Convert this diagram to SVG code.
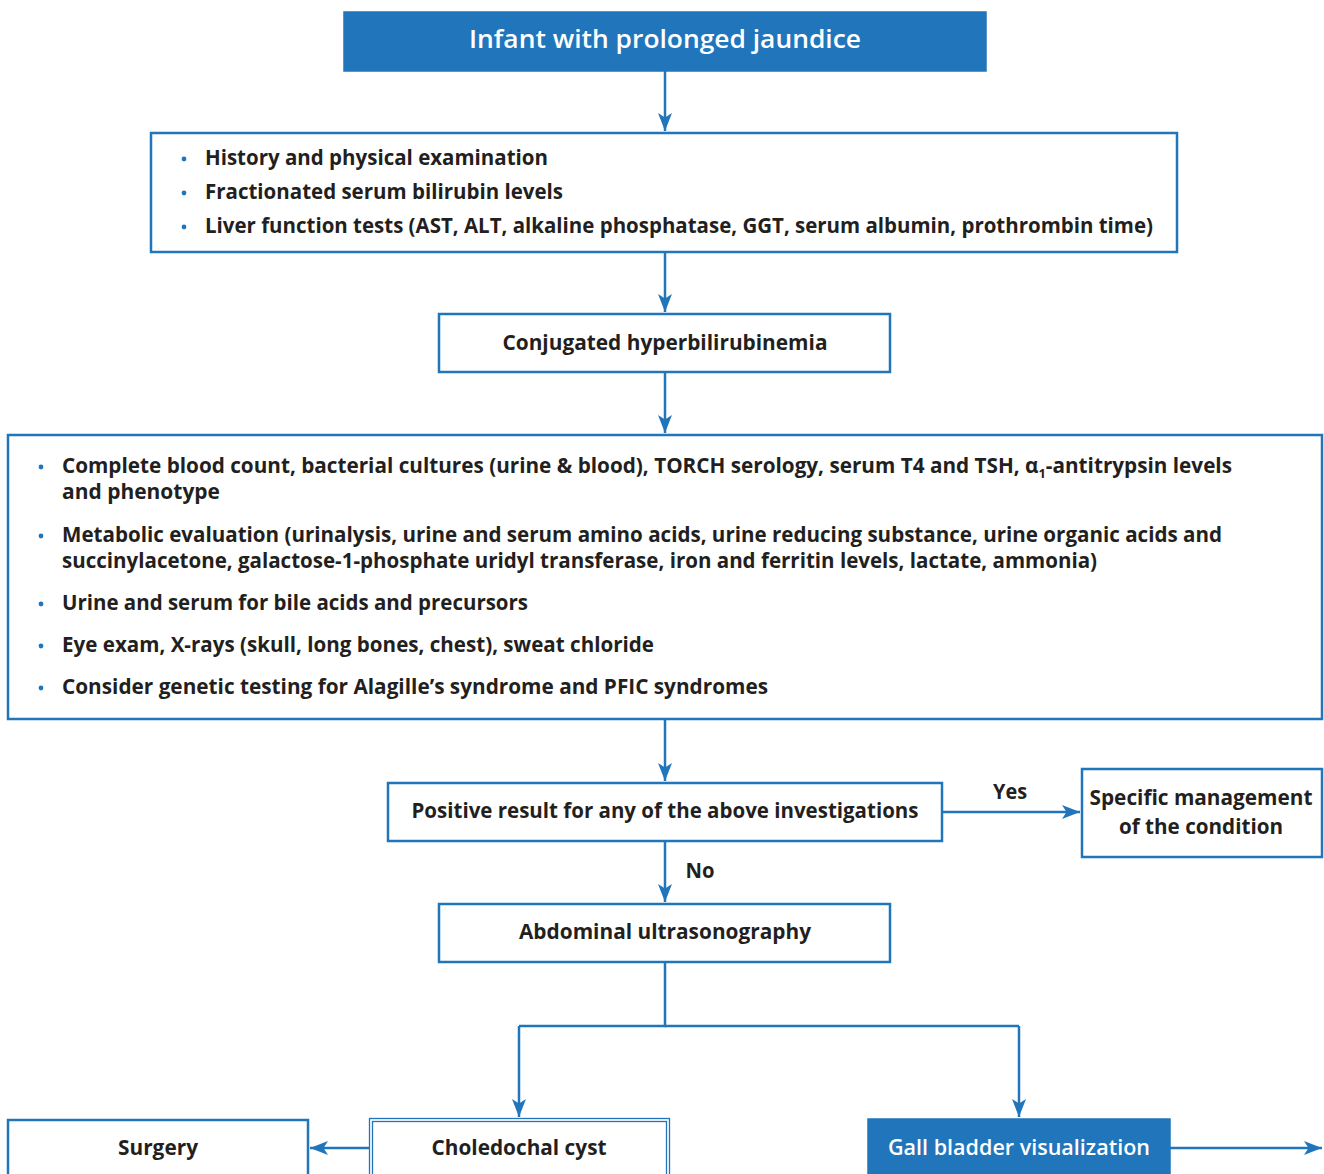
<svg xmlns="http://www.w3.org/2000/svg" width="1324" height="1174" viewBox="0 0 1324 1174">
  <defs>
    <marker id="arrow" markerUnits="userSpaceOnUse" markerWidth="20" markerHeight="16" refX="18" refY="7" orient="auto">
      <path d="M0,0 L18,7 L0,14 L4.5,7 Z" fill="#2176bb"/>
    </marker>
    <style>
      .box { fill: #ffffff; stroke: #2176bb; stroke-width: 2.5; }
      .solid { fill: #2176bb; stroke: #2176bb; stroke-width: 1.5; }
      .thin { fill: none; stroke: #2176bb; stroke-width: 1.3; }
      .edge { fill: none; stroke: #2176bb; stroke-width: 2.5; }
      .arr { marker-end: url(#arrow); }
      text { font-family: "Open Sans", "Liberation Sans", sans-serif; font-weight: 700; font-size: 21px; fill: #231f20; }
      .c { text-anchor: middle; }
      .w { fill: #ffffff; font-weight: 600; }
      .title { font-size: 26px; }
      .dot { fill: #2176bb; }
    </style>
  </defs>

  <!-- connectors -->
  <g id="connectors">
    <line class="edge arr" x1="665" y1="71" x2="665" y2="131"/>
    <line class="edge arr" x1="665" y1="252" x2="665" y2="312"/>
    <line class="edge arr" x1="665" y1="372" x2="665" y2="433"/>
    <line class="edge arr" x1="665" y1="719" x2="665" y2="781"/>
    <line class="edge arr" x1="665" y1="841" x2="665" y2="902"/>
    <line class="edge arr" x1="942" y1="812" x2="1080" y2="812"/>
    <polyline class="edge" points="665,962 665,1026 519,1026"/>
    <polyline class="edge" points="665,1026 1019,1026"/>
    <line class="edge arr" x1="519" y1="1026" x2="519" y2="1117"/>
    <line class="edge arr" x1="1019" y1="1026" x2="1019" y2="1117"/>
    <line class="edge arr" x1="369" y1="1148" x2="310" y2="1148"/>
    <line class="edge arr" x1="1170" y1="1148" x2="1322" y2="1148"/>
    <text x="1010" y="799" class="c" textLength="34" lengthAdjust="spacingAndGlyphs">Yes</text>
    <text x="700" y="878" class="c" textLength="29" lengthAdjust="spacingAndGlyphs">No</text>
  </g>

  <!-- start node -->
  <g id="start">
    <rect class="solid" x="344" y="12" width="642" height="59"/>
    <text x="665" y="48" class="c w title" textLength="392" lengthAdjust="spacingAndGlyphs">Infant with prolonged jaundice</text>
  </g>

  <!-- initial assessment -->
  <g id="assessment">
    <rect class="box" x="151" y="133" width="1026" height="119"/>
    <circle class="dot" cx="184" cy="159" r="2.4"/>
    <circle class="dot" cx="184" cy="193" r="2.4"/>
    <circle class="dot" cx="184" cy="227" r="2.4"/>
    <text x="205" y="165" textLength="343" lengthAdjust="spacingAndGlyphs">History and physical examination</text>
    <text x="205" y="199" textLength="358" lengthAdjust="spacingAndGlyphs">Fractionated serum bilirubin levels</text>
    <text x="205" y="233" textLength="948" lengthAdjust="spacingAndGlyphs">Liver function tests (AST, ALT, alkaline phosphatase, GGT, serum albumin, prothrombin time)</text>
  </g>

  <!-- conjugated -->
  <g id="conjugated">
    <rect class="box" x="439" y="314" width="451" height="58"/>
    <text x="665" y="350" class="c" textLength="325" lengthAdjust="spacingAndGlyphs">Conjugated hyperbilirubinemia</text>
  </g>

  <!-- workup -->
  <g id="workup">
    <rect class="box" x="8" y="435" width="1314" height="284"/>
    <circle class="dot" cx="41" cy="467" r="2.4"/>
    <circle class="dot" cx="41" cy="536" r="2.4"/>
    <circle class="dot" cx="41" cy="604" r="2.4"/>
    <circle class="dot" cx="41" cy="646" r="2.4"/>
    <circle class="dot" cx="41" cy="688" r="2.4"/>
    <text x="62" y="473" textLength="1170" lengthAdjust="spacingAndGlyphs">Complete blood count, bacterial cultures (urine &amp; blood), TORCH serology, serum T4 and TSH, α<tspan font-size="13" dy="5">1</tspan><tspan dy="-5">-antitrypsin levels</tspan></text>
    <text x="62" y="499" textLength="158" lengthAdjust="spacingAndGlyphs">and phenotype</text>
    <text x="62" y="542" textLength="1160" lengthAdjust="spacingAndGlyphs">Metabolic evaluation (urinalysis, urine and serum amino acids, urine reducing substance, urine organic acids and</text>
    <text x="62" y="568" textLength="1035" lengthAdjust="spacingAndGlyphs">succinylacetone, galactose-1-phosphate uridyl transferase, iron and ferritin levels, lactate, ammonia)</text>
    <text x="62" y="610" textLength="466" lengthAdjust="spacingAndGlyphs">Urine and serum for bile acids and precursors</text>
    <text x="62" y="652" textLength="592" lengthAdjust="spacingAndGlyphs">Eye exam, X-rays (skull, long bones, chest), sweat chloride</text>
    <text x="62" y="694" textLength="706" lengthAdjust="spacingAndGlyphs">Consider genetic testing for Alagille’s syndrome and PFIC syndromes</text>
  </g>

  <!-- decision -->
  <g id="positive">
    <rect class="box" x="388" y="783" width="554" height="58"/>
    <text x="665" y="818" class="c" textLength="507" lengthAdjust="spacingAndGlyphs">Positive result for any of the above investigations</text>
  </g>

  <g id="specific">
    <rect class="box" x="1082" y="769" width="240" height="88"/>
    <text x="1201" y="805" class="c" textLength="223" lengthAdjust="spacingAndGlyphs">Specific management</text>
    <text x="1201" y="834" class="c" textLength="164" lengthAdjust="spacingAndGlyphs">of the condition</text>
  </g>

  <g id="ultrasound">
    <rect class="box" x="439" y="904" width="451" height="58"/>
    <text x="665" y="939" class="c" textLength="292" lengthAdjust="spacingAndGlyphs">Abdominal ultrasonography</text>
  </g>

  <!-- bottom row -->
  <g id="surgery">
    <rect class="box" x="8" y="1120" width="300" height="80"/>
    <text x="158" y="1155" class="c" textLength="80" lengthAdjust="spacingAndGlyphs">Surgery</text>
  </g>

  <g id="cyst">
    <rect x="369" y="1118" width="301" height="80" fill="#ffffff"/>
    <rect class="thin" x="369.5" y="1118.5" width="300" height="80"/>
    <rect class="thin" x="372.5" y="1121.5" width="294" height="80"/>
    <text x="519" y="1155" class="c" textLength="175" lengthAdjust="spacingAndGlyphs">Choledochal cyst</text>
  </g>

  <g id="gallbladder">
    <rect class="solid" x="868" y="1119" width="302" height="80"/>
    <text x="1019" y="1155" class="c w" textLength="262" lengthAdjust="spacingAndGlyphs">Gall bladder visualization</text>
  </g>
</svg>
